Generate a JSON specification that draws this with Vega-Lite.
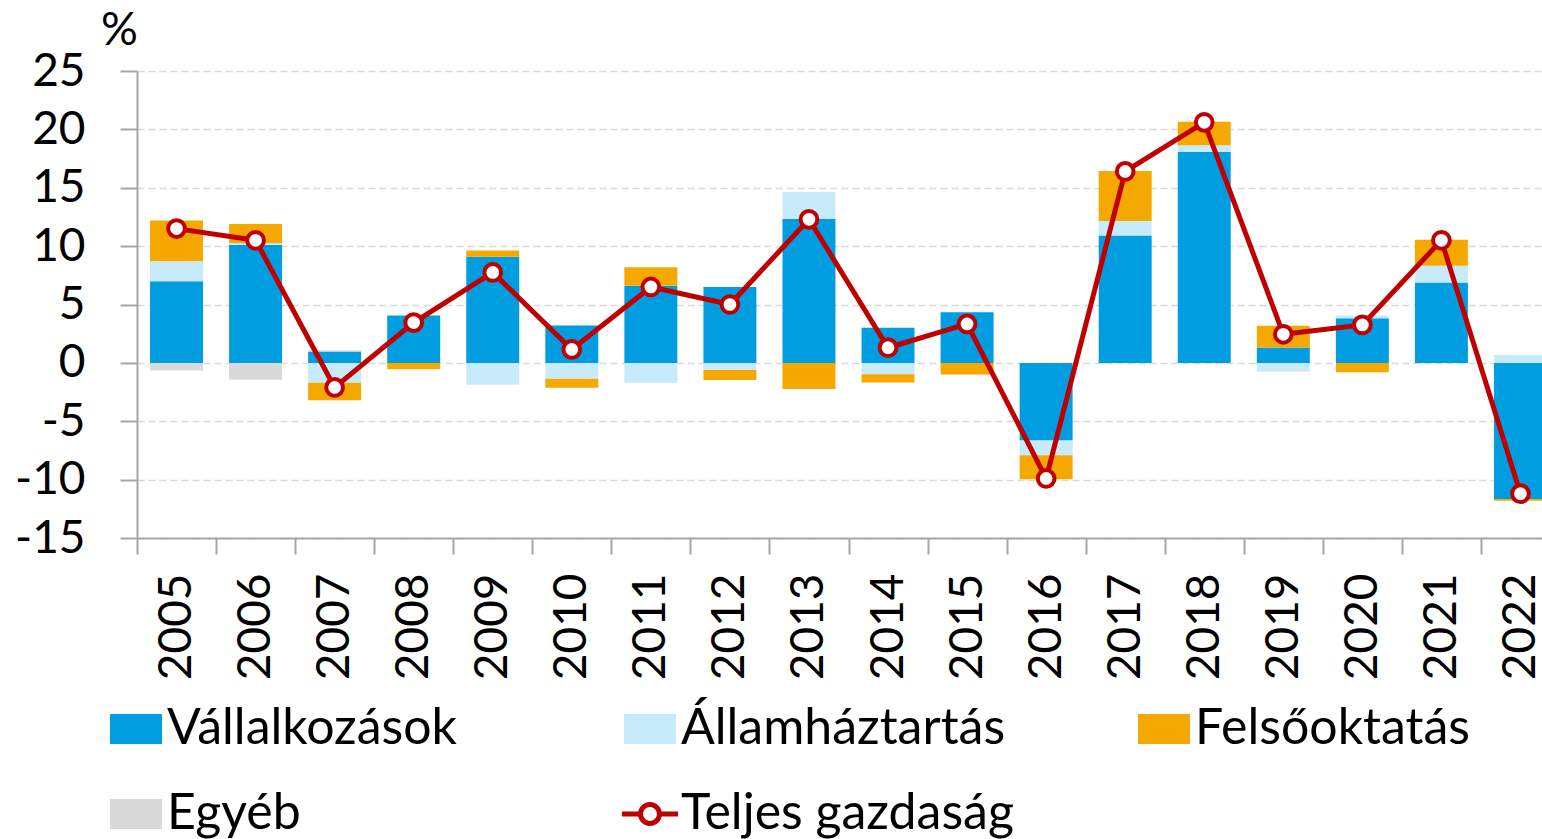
{
  "$schema": "https://vega.github.io/schema/vega-lite/v6.json",
  "width": 1405,
  "height": 467,
  "autosize": {"type": "none"},
  "padding": {"left": 137, "top": 71, "right": 0, "bottom": 301},
  "background": "white",
  "config": {
    "font": "Lato",
    "view": {"stroke": null},
    "axis": {"labelColor": "black", "titleColor": "black"}
  },
  "datasets": {
    "bars": [
      {"year": "2005", "series": "Vállalkozások", "k": 1, "value": 7.0},
      {"year": "2005", "series": "Államháztartás", "k": 2, "value": 1.7},
      {"year": "2005", "series": "Felsőoktatás", "k": 3, "value": 3.5},
      {"year": "2005", "series": "Egyéb", "k": 4, "value": -0.65},
      {"year": "2006", "series": "Vállalkozások", "k": 1, "value": 10.1},
      {"year": "2006", "series": "Államháztartás", "k": 2, "value": 0.15},
      {"year": "2006", "series": "Felsőoktatás", "k": 3, "value": 1.65},
      {"year": "2006", "series": "Egyéb", "k": 4, "value": -1.45},
      {"year": "2007", "series": "Vállalkozások", "k": 1, "value": 0.97},
      {"year": "2007", "series": "Államháztartás", "k": 2, "value": -1.7},
      {"year": "2007", "series": "Felsőoktatás", "k": 3, "value": -1.5},
      {"year": "2007", "series": "Egyéb", "k": 4, "value": 0.12},
      {"year": "2008", "series": "Vállalkozások", "k": 1, "value": 4.05},
      {"year": "2008", "series": "Államháztartás", "k": 2, "value": 0.0},
      {"year": "2008", "series": "Felsőoktatás", "k": 3, "value": -0.55},
      {"year": "2008", "series": "Egyéb", "k": 4, "value": 0.0},
      {"year": "2009", "series": "Vállalkozások", "k": 1, "value": 9.08},
      {"year": "2009", "series": "Államháztartás", "k": 2, "value": -1.83},
      {"year": "2009", "series": "Felsőoktatás", "k": 3, "value": 0.55},
      {"year": "2009", "series": "Egyéb", "k": 4, "value": -0.05},
      {"year": "2010", "series": "Vállalkozások", "k": 1, "value": 3.2},
      {"year": "2010", "series": "Államháztartás", "k": 2, "value": -1.35},
      {"year": "2010", "series": "Felsőoktatás", "k": 3, "value": -0.77},
      {"year": "2010", "series": "Egyéb", "k": 4, "value": 0.0},
      {"year": "2011", "series": "Vállalkozások", "k": 1, "value": 6.6},
      {"year": "2011", "series": "Államháztartás", "k": 2, "value": -1.7},
      {"year": "2011", "series": "Felsőoktatás", "k": 3, "value": 1.6},
      {"year": "2011", "series": "Egyéb", "k": 4, "value": 0.0},
      {"year": "2012", "series": "Vállalkozások", "k": 1, "value": 6.5},
      {"year": "2012", "series": "Államháztartás", "k": 2, "value": -0.6},
      {"year": "2012", "series": "Felsőoktatás", "k": 3, "value": -0.86},
      {"year": "2012", "series": "Egyéb", "k": 4, "value": 0.0},
      {"year": "2013", "series": "Vállalkozások", "k": 1, "value": 12.33},
      {"year": "2013", "series": "Államháztartás", "k": 2, "value": 2.3},
      {"year": "2013", "series": "Felsőoktatás", "k": 3, "value": -2.23},
      {"year": "2013", "series": "Egyéb", "k": 4, "value": 0.0},
      {"year": "2014", "series": "Vállalkozások", "k": 1, "value": 3.0},
      {"year": "2014", "series": "Államháztartás", "k": 2, "value": -0.97},
      {"year": "2014", "series": "Felsőoktatás", "k": 3, "value": -0.71},
      {"year": "2014", "series": "Egyéb", "k": 4, "value": 0.0},
      {"year": "2015", "series": "Vállalkozások", "k": 1, "value": 4.34},
      {"year": "2015", "series": "Államháztartás", "k": 2, "value": 0.0},
      {"year": "2015", "series": "Felsőoktatás", "k": 3, "value": -1.0},
      {"year": "2015", "series": "Egyéb", "k": 4, "value": 0.0},
      {"year": "2016", "series": "Vállalkozások", "k": 1, "value": -6.65},
      {"year": "2016", "series": "Államháztartás", "k": 2, "value": -1.26},
      {"year": "2016", "series": "Felsőoktatás", "k": 3, "value": -2.06},
      {"year": "2016", "series": "Egyéb", "k": 4, "value": 0.0},
      {"year": "2017", "series": "Vállalkozások", "k": 1, "value": 10.9},
      {"year": "2017", "series": "Államháztartás", "k": 2, "value": 1.26},
      {"year": "2017", "series": "Felsőoktatás", "k": 3, "value": 4.28},
      {"year": "2017", "series": "Egyéb", "k": 4, "value": 0.0},
      {"year": "2018", "series": "Vállalkozások", "k": 1, "value": 18.07},
      {"year": "2018", "series": "Államháztartás", "k": 2, "value": 0.58},
      {"year": "2018", "series": "Felsőoktatás", "k": 3, "value": 2.0},
      {"year": "2018", "series": "Egyéb", "k": 4, "value": 0.0},
      {"year": "2019", "series": "Vállalkozások", "k": 1, "value": 1.31},
      {"year": "2019", "series": "Államháztartás", "k": 2, "value": -0.69},
      {"year": "2019", "series": "Felsőoktatás", "k": 3, "value": 1.86},
      {"year": "2019", "series": "Egyéb", "k": 4, "value": -0.05},
      {"year": "2020", "series": "Vállalkozások", "k": 1, "value": 3.83},
      {"year": "2020", "series": "Államháztartás", "k": 2, "value": 0.22},
      {"year": "2020", "series": "Felsőoktatás", "k": 3, "value": -0.8},
      {"year": "2020", "series": "Egyéb", "k": 4, "value": 0.0},
      {"year": "2021", "series": "Vállalkozások", "k": 1, "value": 6.88},
      {"year": "2021", "series": "Államháztartás", "k": 2, "value": 1.43},
      {"year": "2021", "series": "Felsőoktatás", "k": 3, "value": 2.23},
      {"year": "2021", "series": "Egyéb", "k": 4, "value": 0.0},
      {"year": "2022", "series": "Vállalkozások", "k": 1, "value": -11.65},
      {"year": "2022", "series": "Államháztartás", "k": 2, "value": 0.68},
      {"year": "2022", "series": "Felsőoktatás", "k": 3, "value": -0.15},
      {"year": "2022", "series": "Egyéb", "k": 4, "value": 0.0}
    ],
    "total": [
      {"year": "2005", "total": 11.5},
      {"year": "2006", "total": 10.5},
      {"year": "2007", "total": -2.1},
      {"year": "2008", "total": 3.45},
      {"year": "2009", "total": 7.75},
      {"year": "2010", "total": 1.15},
      {"year": "2011", "total": 6.5},
      {"year": "2012", "total": 5.0},
      {"year": "2013", "total": 12.3},
      {"year": "2014", "total": 1.3},
      {"year": "2015", "total": 3.34},
      {"year": "2016", "total": -9.9},
      {"year": "2017", "total": 16.4},
      {"year": "2018", "total": 20.6},
      {"year": "2019", "total": 2.45},
      {"year": "2020", "total": 3.25},
      {"year": "2021", "total": 10.5},
      {"year": "2022", "total": -11.2}
    ]
  },
  "layer": [
    {
      "data": {"name": "bars"},
      "mark": {"type": "bar"},
      "encoding": {
        "x": {
          "field": "year",
          "type": "ordinal",
          "scale": {"range": [0, 1423], "paddingInner": 0.33, "paddingOuter": 0.165},
          "axis": {
            "title": null,
            "labelAngle": 270,
            "labelFontSize": 46,
            "labelPadding": 19,
            "tickSize": 16,
            "tickColor": "#a6a6a6",
            "tickWidth": 2,
            "domainColor": "#a6a6a6",
            "domainWidth": 2,
            "bandPosition": 0.5,
            "tickOffset": -39.5,
            "labelOffset": 39.5,
            "grid": false
          }
        },
        "y": {
          "field": "value",
          "type": "quantitative",
          "stack": "zero",
          "scale": {"domain": [-15, 25], "nice": false},
          "axis": {
            "title": "%",
            "titleAngle": 0,
            "titleFontSize": 46,
            "titleFontWeight": "normal",
            "titleX": -18,
            "titleY": -41,
            "titleAlign": "center",
            "titleBaseline": "middle",
            "values": [-15, -10, -5, 0, 5, 10, 15, 20, 25],
            "labelExpr": "'' + datum.value",
            "labelFontSize": 46,
            "labelPadding": 35,
            "tickSize": 17,
            "tickColor": "#a6a6a6",
            "tickWidth": 2,
            "domainColor": "#a6a6a6",
            "domainWidth": 2,
            "grid": true,
            "gridColor": "#d9d9d9",
            "gridDash": [7, 4],
            "gridWidth": 1.5
          }
        },
        "order": {"field": "k", "type": "quantitative", "sort": "ascending"},
        "color": {
          "field": "series",
          "type": "nominal",
          "scale": {
            "domain": ["Vállalkozások", "Államháztartás", "Felsőoktatás", "Egyéb", "Teljes gazdaság"],
            "range": ["#009EE0", "#C7EBFA", "#F5A800", "#D9D9D9", "#C00000"]
          },
          "legend": {
            "title": null,
            "orient": "none",
            "legendX": -27,
            "legendY": 632,
            "direction": "horizontal",
            "columns": 3,
            "columnPadding": 121,
            "rowPadding": 34,
            "gridAlign": "all",
            "padding": 0,
            "labelFontSize": 50,
            "labelColor": "black",
            "labelOffset": 5,
            "labelLimit": 700,
            "symbolSize": 2704,
            "symbolType": "M-1,-0.577H1V0.577H-1Z",
            "symbolStrokeWidth": 0,
            "symbolOpacity": 1,
            "encode": {
              "symbols": {
                "update": {
                  "shape": {"signal": "datum.value === 'Teljes gazdaság' ? 'M-1.08,-0.096H-0.4V0.096H-1.08Z M0.4,-0.096H1.08V0.096H0.4Z M0.46,0A0.46,0.46,0,1,1,-0.46,0A0.46,0.46,0,1,1,0.46,0Z M0.265,0A0.265,0.265,0,1,0,-0.265,0A0.265,0.265,0,1,0,0.265,0Z' : 'M-1,-0.577H1V0.577H-1Z'"}
                }
              }
            }
          }
        }
      }
    },
    {
      "data": {"name": "total"},
      "mark": {"type": "line", "color": "#C00000", "strokeWidth": 5},
      "encoding": {
        "x": {"field": "year", "type": "ordinal"},
        "y": {"field": "total", "type": "quantitative", "scale": {"domain": [-15, 25], "nice": false}}
      }
    },
    {
      "data": {"name": "total"},
      "mark": {"type": "point", "filled": true, "fill": "white", "stroke": "#C00000", "strokeWidth": 4, "size": 280, "opacity": 1},
      "encoding": {
        "x": {"field": "year", "type": "ordinal"},
        "y": {"field": "total", "type": "quantitative", "scale": {"domain": [-15, 25], "nice": false}}
      }
    }
  ]
}
